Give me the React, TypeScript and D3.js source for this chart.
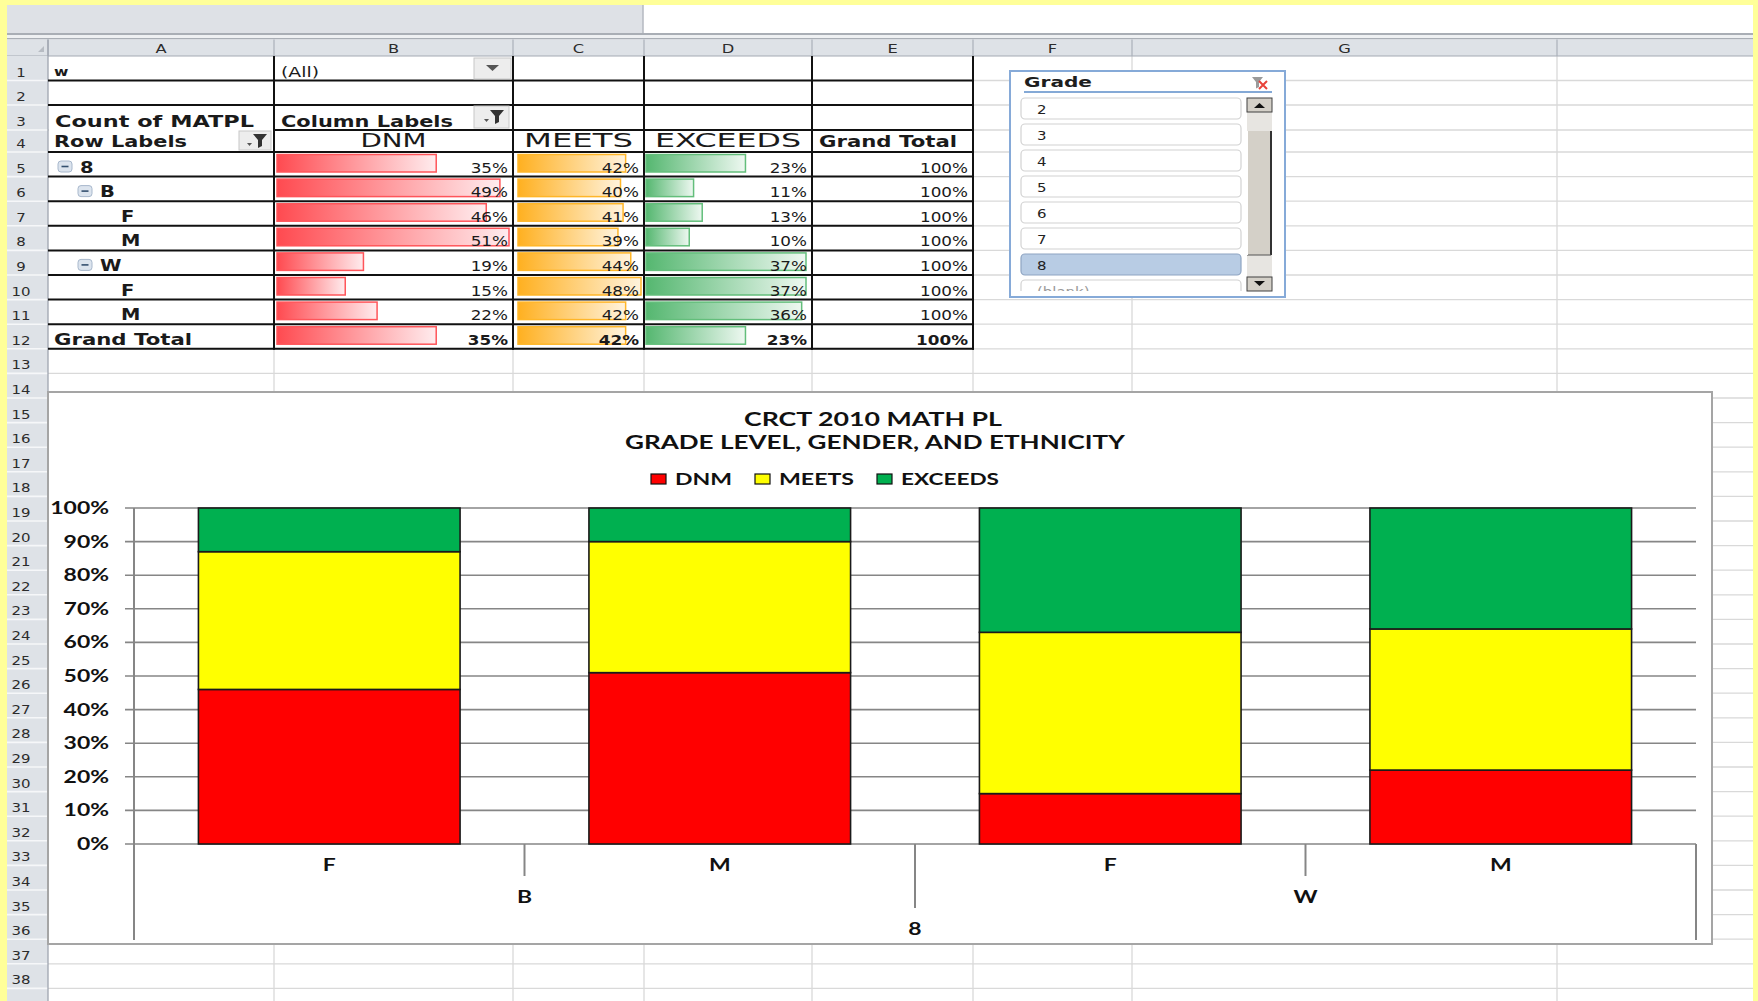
import * as d3 from 'd3';

// ---- chart data: grade 8, by ethnicity and gender (percent of students)
const genders = ['F', 'M', 'F', 'M'];
const barEthnicity = ['B', 'B', 'W', 'W'];
const gradeLabel = '8';
const dnmPct = [46, 51, 15, 22];
const meetsPct = [41, 39, 48, 42];
const exceedsPct = [13, 10, 37, 36];
const seriesNames = ['DNM', 'MEETS', 'EXCEEDS'];
const seriesColors = ['#FF0000', '#FFFF00', '#00B050'];
const chartTitle = ['CRCT 2010 MATH PL', 'GRADE LEVEL, GENDER, AND ETHNICITY'];

// ---- pivot table
const pivotLabels = ['8', 'B', 'F', 'M', 'W', 'F', 'M', 'Grand Total'];
const pivotLevels = [0, 1, 2, 2, 1, 2, 2, -1];
const pivotDnm = [35, 49, 46, 51, 19, 15, 22, 35];
const pivotMeets = [42, 40, 41, 39, 44, 48, 42, 42];
const pivotExceeds = [23, 11, 13, 10, 37, 37, 36, 23];
const pivotTotal = [100, 100, 100, 100, 100, 100, 100, 100];

// ---- slicer
const gradeItems = ['2', '3', '4', '5', '6', '7', '8', '(blank)'];
const selectedGrade = '8';

const columnLetters = ['A', 'B', 'C', 'D', 'E', 'F', 'G', ''];
const colEdges = [48, 274, 513, 644, 812, 973, 1132, 1557, 1753];

const CELL = "'DejaVu Sans', Verdana, sans-serif";
const CHART = "Lato, 'Open Sans', sans-serif";

const rowTop = (n: number) =>
  n <= 3 ? 56 + (n - 1) * 24.5 : n === 4 ? 130 : 152 + (n - 5) * 24.6;

function Txt({
  x, y, children, size = 13, weight = 400, anchor = 'start', fill = '#1a1a1a',
  family = CELL, len, sx = 1,
}: any) {
  if (len) {
    return (
      <text x={x} y={y} fontSize={size} fontWeight={weight} fontFamily={family}
        textAnchor={anchor} fill={fill} textLength={len} lengthAdjust="spacingAndGlyphs">
        {children}
      </text>
    );
  }
  return (
    <text transform={`translate(${x},${y}) scale(${sx},1)`} fontSize={size} fontWeight={weight}
      fontFamily={family} textAnchor={anchor} fill={fill}>
      {children}
    </text>
  );
}

const FilterIcon = ({ x, y }: { x: number; y: number }) => (
  <g>
    <path d={`M${x + 6},${y} h14 l-5,6 v6 l-4,2 v-8 z`} fill="#333" />
    <path d={`M${x},${y + 9} h5 l-2.5,3 z`} fill="#555" />
  </g>
);

export default function App() {
  const W = 1758;
  const H = 1001;

  // ---------- chart scales
  const chartRows = genders.map((g, i) => ({
    DNM: dnmPct[i], MEETS: meetsPct[i], EXCEEDS: exceedsPct[i],
  }));
  const stacked = d3.stack<any>().keys(seriesNames)(chartRows);
  const x = d3.scaleBand<number>().domain(d3.range(genders.length))
    .range([134, 1696]).paddingInner(0.33).paddingOuter(0.165);
  const y = d3.scaleLinear().domain([0, 100]).range([844, 508]);
  const yTicks = y.ticks(10);
  const [x0, x1] = x.range();
  const step = x.step();

  // ---------- data bar scales in pivot
  const colW = (i: number) => colEdges[i + 1] - colEdges[i];
  const barScales = [
    d3.scaleLinear().domain([0, d3.max(pivotDnm)!]).range([0, colW(1) - 7]),
    d3.scaleLinear().domain([0, d3.max(pivotMeets)!]).range([0, colW(2) - 8]),
    d3.scaleLinear().domain([0, d3.max(pivotExceeds)!]).range([0, colW(3) - 8]),
  ];
  const pivotValues = [pivotDnm, pivotMeets, pivotExceeds];
  const barGrad = ['gDnm', 'gMeets', 'gExc'];
  const barStroke = ['#FF555A', '#FFB628', '#63BE7B'];
  const barLeftPad = [3, 5, 2];

  const rows = d3.range(1, 40);
  const labelX: Record<number, number> = { 0: 80, 1: 100, 2: 121, [-1]: 54 };

  return (
    <svg width={W} height={H} style={{ position: 'absolute', left: 0, top: 0 }}>
      <defs>
        <linearGradient id="gDnm" x1="0" x2="1" y1="0" y2="0">
          <stop offset="0" stopColor="#FF4A50" />
          <stop offset="1" stopColor="#FFECEE" />
        </linearGradient>
        <linearGradient id="gMeets" x1="0" x2="1" y1="0" y2="0">
          <stop offset="0" stopColor="#FFB020" />
          <stop offset="1" stopColor="#FFF3DD" />
        </linearGradient>
        <linearGradient id="gExc" x1="0" x2="1" y1="0" y2="0">
          <stop offset="0" stopColor="#55B770" />
          <stop offset="1" stopColor="#EEF8F1" />
        </linearGradient>
        <clipPath id="slicerClip">
          <rect x={1012} y={94} width={232} height={197} />
        </clipPath>
      </defs>

      {/* page background and yellow frame */}
      <rect x={0} y={0} width={W} height={H} fill="#FFFFFF" />
      <rect x={0} y={0} width={W} height={5} fill="#FFFF99" />
      <rect x={0} y={0} width={7} height={H} fill="#FFFF99" />
      <rect x={1753} y={0} width={5} height={H} fill="#FFFF99" />

      {/* formula-bar strip */}
      <rect x={7} y={5} width={636} height={28} fill="#DEE1E6" />
      <line x1={643} y1={5} x2={643} y2={33} stroke="#B4B9C0" strokeWidth={1.5} />
      <rect x={7} y={33} width={1746} height={2} fill="#A9AEB5" />
      <rect x={7} y={35} width={1746} height={3} fill="#EEF0F2" />
      <rect x={7} y={38} width={1746} height={1.5} fill="#A9AEB5" />

      {/* sheet gridlines */}
      {rows.map((n) => (
        <line key={`gh${n}`} x1={48} x2={1753} y1={rowTop(n + 1)} y2={rowTop(n + 1)}
          stroke="#D9D9D9" strokeWidth={1.3} />
      ))}
      {colEdges.slice(1, -1).map((cx) => (
        <line key={`gv${cx}`} x1={cx} x2={cx} y1={56} y2={H} stroke="#D9D9D9" strokeWidth={1.3} />
      ))}

      {/* column header */}
      <rect x={7} y={39.5} width={1746} height={16.5} fill="#DEE2E7" />
      <line x1={7} x2={1753} y1={56} y2={56} stroke="#A3AAB3" strokeWidth={1.2} />
      <path d="M38,52 L44,52 L44,46 Z" fill="#B7BCC3" />
      {colEdges.slice(0, -1).map((cx, i) => (
        <g key={`ch${i}`}>
          <line x1={cx} x2={cx} y1={39.5} y2={56} stroke="#AAB1BA" strokeWidth={1.2} />
          <Txt x={(cx + colEdges[i + 1]) / 2} y={52.5} size={13} anchor="middle" fill="#2c2c2c" sx={1.25}>
            {columnLetters[i]}
          </Txt>
        </g>
      ))}

      {/* row header */}
      <rect x={7} y={56} width={41} height={H - 56} fill="#DEE2E7" />
      {rows.map((n) => (
        <g key={`rh${n}`}>
          <line x1={7} x2={48} y1={rowTop(n + 1)} y2={rowTop(n + 1)} stroke="#F6F7F9" strokeWidth={1.6} />
          {rowTop(n + 1) <= H && (
            <Txt x={21} y={rowTop(n + 1) - 4} size={13} anchor="middle" fill="#2c2c2c" sx={1.15}>
              {n}
            </Txt>
          )}
        </g>
      ))}
      <line x1={48} x2={48} y1={39.5} y2={H} stroke="#9EA5AF" strokeWidth={1.3} />

      {/* ---------- pivot table ---------- */}
      <rect x={49} y={57} width={924} height={rowTop(13) - 57} fill="#FFFFFF" />
      {d3.range(2, 14).map((n) => (
        <line key={`pb${n}`} x1={n === 4 ? 274 : 48} x2={974} y1={rowTop(n)} y2={rowTop(n)}
          stroke="#111" strokeWidth={2} />
      ))}
      {colEdges.slice(1, 6).map((cx) => (
        <line key={`pv${cx}`} x1={cx} x2={cx} y1={56} y2={rowTop(13) + 1} stroke="#111" strokeWidth={2} />
      ))}

      {/* page filter row */}
      <Txt x={54} y={76} size={12} weight={700} sx={1.3}>w</Txt>
      <Txt x={281} y={77} size={14} len={38}>(All)</Txt>
      <rect x={474} y={58} width={37} height={21} fill="#EDEDED" stroke="#C8C8C8" />
      <path d="M486,65 h13 l-6.5,6 z" fill="#555" />

      {/* header rows */}
      <Txt x={55} y={127} size={15} weight={700} len={199}>Count of MATPL</Txt>
      <Txt x={281} y={127} size={15} weight={700} len={172}>Column Labels</Txt>
      <rect x={474} y={106} width={35} height={22} fill="#EDEDED" stroke="#C8C8C8" />
      <FilterIcon x={484} y={110} />
      <Txt x={54} y={147} size={15} weight={700} len={133}>Row Labels</Txt>
      <rect x={239} y={131} width={32} height={19} fill="#EDEDED" stroke="#C8C8C8" />
      <FilterIcon x={247} y={134} />
      {seriesNames.map((s, i) => {
        const lens = [66, 109, 146];
        return (
          <Txt key={`sh${s}`} x={(colEdges[i + 1] + colEdges[i + 2]) / 2} y={147} size={19}
            anchor="middle" len={lens[i]}>
            {s}
          </Txt>
        );
      })}
      <Txt x={819} y={147} size={15} weight={700} len={138}>Grand Total</Txt>

      {/* body rows */}
      {pivotLabels.map((lab, r) => {
        const n = r + 5;
        const top = rowTop(n);
        const lvl = pivotLevels[r];
        const bold = lvl === -1 ? 700 : 400;
        return (
          <g key={`pr${r}`}>
            {(lvl === 0 || lvl === 1) && (
              <g>
                <rect x={lvl === 0 ? 58 : 78} y={top + 9} width={14} height={11} rx={3}
                  fill="#DCE4EE" stroke="#A8B8CC" />
                <line x1={(lvl === 0 ? 58 : 78) + 3.5} x2={(lvl === 0 ? 58 : 78) + 10.5}
                  y1={top + 14.5} y2={top + 14.5} stroke="#34506F" strokeWidth={1.6} />
              </g>
            )}
            {lvl === -1 ? (
              <Txt x={54} y={top + 20.5} size={15} weight={700} len={138}>{lab}</Txt>
            ) : (
              <Txt x={labelX[lvl]} y={top + 20.5} size={15} weight={700} sx={1.3}>{lab}</Txt>
            )}
            {pivotValues.map((vals, c) => (
              <g key={`pc${c}`}>
                <rect x={colEdges[c + 1] + barLeftPad[c]} y={top + 2.5}
                  width={barScales[c](vals[r])} height={17.5}
                  fill={`url(#${barGrad[c]})`} stroke={barStroke[c]} strokeWidth={1.5} />
                <Txt x={colEdges[c + 2] - 5} y={top + 20.5} size={14} weight={bold}
                  anchor="end" sx={1.2}>
                  {`${vals[r]}%`}
                </Txt>
              </g>
            ))}
            <Txt x={colEdges[5] - 5} y={top + 20.5} size={14} weight={bold} anchor="end" sx={1.2}>
              {`${pivotTotal[r]}%`}
            </Txt>
          </g>
        );
      })}

      {/* ---------- slicer ---------- */}
      <rect x={1010} y={71} width={275} height={226} fill="#FFFFFF" stroke="#86AAD8" strokeWidth={2} />
      <Txt x={1024} y={86.5} size={14} weight={700} len={68} fill="#1e1e1e">Grade</Txt>
      <path d="M1252,77 h11 l-4,5 v5 l-3,1.5 v-6.5 z" fill="#9A9A9A" />
      <path d="M1259,81 l8,8 M1267,81 l-8,8" stroke="#E8423A" strokeWidth={2} />
      <line x1={1024} x2={1272} y1={92} y2={92} stroke="#5B8DC8" strokeWidth={1.6} />
      <g clipPath="url(#slicerClip)">
        {gradeItems.map((g, i) => {
          const by = 98 + i * 26;
          const sel = g === selectedGrade;
          return (
            <g key={`sl${g}`}>
              <rect x={1021} y={by} width={220} height={21} rx={4}
                fill={sel ? '#B8CCE4' : '#FFFFFF'} stroke={sel ? '#8EA4C2' : '#D2D2D2'} strokeWidth={1.2} />
              <Txt x={1037} y={by + 16} size={13} sx={1.15} fill={g === '(blank)' ? '#9A9A9A' : '#222'}>
                {g}
              </Txt>
            </g>
          );
        })}
      </g>
      {/* scrollbar */}
      <rect x={1247} y={98} width={25} height={193} fill="#E7E5E1" />
      <rect x={1247} y={98} width={25} height={14} fill="#D4D0C8" stroke="#404040" strokeWidth={1} />
      <path d="M1254,108 h11 l-5.5,-5 z" fill="#111" />
      <rect x={1247} y={131} width={24} height={124} fill="#D4D0C8" />
      <line x1={1271} x2={1271} y1={131} y2={255} stroke="#333" strokeWidth={2} />
      <line x1={1247} x2={1271} y1={255} y2={255} stroke="#555" strokeWidth={1} />
      <line x1={1247.5} x2={1247.5} y1={131} y2={255} stroke="#FFFFFF" strokeWidth={1} />
      <rect x={1247} y={277} width={25} height={14} fill="#D4D0C8" stroke="#404040" strokeWidth={1} />
      <path d="M1254,281 h11 l-5.5,5 z" fill="#111" />

      {/* ---------- chart ---------- */}
      <rect x={48} y={392} width={1664} height={552} fill="#FFFFFF" stroke="#A5A5A5" strokeWidth={2} />

      {chartTitle.map((t, i) => (
        <Txt key={`t${i}`} x={i === 0 ? 873 : 875} y={426 + i * 23} size={18} weight={700}
          family={CHART} anchor="middle" fill="#111" len={i === 0 ? 258 : 500}>
          {t}
        </Txt>
      ))}

      {/* legend */}
      {seriesNames.map((s, i) => {
        const sw = [651, 755, 877];
        const lens = [57, 75, 98];
        return (
          <g key={`lg${s}`}>
            <rect x={sw[i]} y={474} width={15} height={10} fill={seriesColors[i]} stroke="#111" strokeWidth={1.2} />
            <Txt x={sw[i] + 24} y={484.5} size={17} weight={700} family={CHART} fill="#111" len={lens[i]}>
              {s}
            </Txt>
          </g>
        );
      })}

      {/* gridlines + y axis */}
      {yTicks.map((t) => (
        <g key={`yt${t}`}>
          <line x1={125} x2={x1} y1={y(t)} y2={y(t)} stroke="#868686" strokeWidth={1.6} />
          <Txt x={109} y={y(t) + 6} size={17} weight={700} family={CHART} anchor="end"
            fill="#111" sx={1.35}>
            {`${t}%`}
          </Txt>
        </g>
      ))}
      <line x1={x0} x2={x0} y1={y(100)} y2={940} stroke="#868686" strokeWidth={2} />
      <line x1={x1} x2={x1} y1={y(0)} y2={940} stroke="#868686" strokeWidth={2} />

      {/* stacked bars */}
      {stacked.map((layer, si) => (
        <g key={`sr${si}`}>
          {layer.map((d, i) => (
            <rect key={`b${si}-${i}`} x={x(i)} y={y(d[1])} width={x.bandwidth()}
              height={y(d[0]) - y(d[1])} fill={seriesColors[si]} stroke="#1a1a1a" strokeWidth={1.6} />
          ))}
        </g>
      ))}

      {/* multi-level category axis */}
      {d3.range(1, genders.length).map((i) => {
        const bx = x0 + i * step;
        const long = barEthnicity[i] !== barEthnicity[i - 1];
        return (
          <line key={`cd${i}`} x1={bx} x2={bx} y1={y(0)} y2={long ? 908 : 876}
            stroke="#868686" strokeWidth={2} />
        );
      })}
      {genders.map((g, i) => (
        <Txt key={`cg${i}`} x={x(i)! + x.bandwidth() / 2} y={871} size={17} weight={700}
          family={CHART} anchor="middle" fill="#111" sx={1.35}>
          {g}
        </Txt>
      ))}
      {Array.from(new Set(barEthnicity)).map((e) => {
        const idx = barEthnicity.map((v, i) => (v === e ? i : -1)).filter((i) => i >= 0);
        const cx = x0 + ((idx[0] + idx[idx.length - 1] + 1) / 2) * step;
        return (
          <Txt key={`ce${e}`} x={cx} y={903} size={17} weight={700} family={CHART}
            anchor="middle" fill="#111" sx={1.35}>
            {e}
          </Txt>
        );
      })}
      <Txt x={(x0 + x1) / 2} y={935} size={17} weight={700} family={CHART} anchor="middle"
        fill="#111" sx={1.35}>
        {gradeLabel}
      </Txt>
    </svg>
  );
}
